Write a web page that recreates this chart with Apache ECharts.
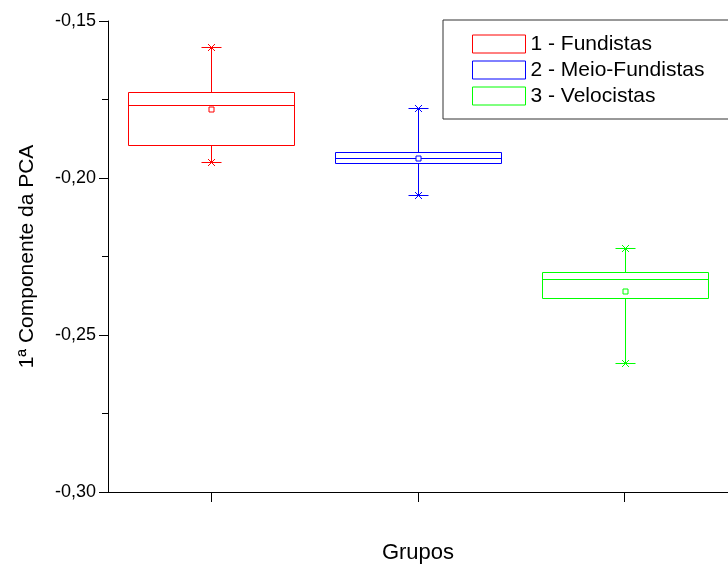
<!DOCTYPE html>
<html>
<head>
<meta charset="utf-8">
<script src="https://cdn.jsdelivr.net/npm/echarts@6/dist/echarts.min.js"></script>
<style>
html,body{margin:0;padding:0;background:#fff;}
#chart{width:728px;height:569px;}
</style>
</head>
<body>
<div id="chart"></div>
<script>
const categories = ['1', '2', '3'];
const seriesNames = ['1 - Fundistas', '2 - Meio-Fundistas', '3 - Velocistas'];
const seriesColors = ['#ff0000', '#0000ff', '#00ff00'];
const whiskerLow = [-0.1949, -0.2055, -0.2590];
const q1 = [-0.1894, -0.1952, -0.2381];
const median = [-0.1769, -0.1936, -0.2321];
const q3 = [-0.1727, -0.1916, -0.2300];
const whiskerHigh = [-0.1583, -0.1778, -0.2223];
const means = [-0.1781, -0.1936, -0.2361];
const yMin = -0.30, yMax = -0.15, yStep = 0.05;

const FONT = "'Liberation Sans', Arial, sans-serif";

function makeRender(color) {
  return function (params, api) {
    const idx = api.value(0);
    const cx = Math.round(api.coord([idx, api.value(3)])[0]) + 0.5;
    const Y = (k) => Math.round(api.coord([idx, api.value(k)])[1]) + 0.5;
    const yLow = Y(1), yQ1 = Y(2), yMed = Y(3), yQ3 = Y(4), yHigh = Y(5), yMean = Y(6);
    const catW = api.size([1, 0])[0];
    const half = Math.round(catW * 0.4);
    const capHalf = Math.round(catW * 0.05);
    const m = 3.5;
    const ms = 2.5;
    const ls = { stroke: color, lineWidth: 1, fill: null };
    const line = (x1, y1, x2, y2) => ({ type: 'line', shape: { x1, y1, x2, y2 }, style: ls });
    const children = [
      { type: 'rect', shape: { x: cx - half, y: yQ3, width: 2 * half, height: yQ1 - yQ3 }, style: { stroke: color, lineWidth: 1, fill: 'none' } },
      line(cx - half, yMed, cx + half, yMed),
      line(cx, yQ3, cx, yHigh),
      line(cx, yQ1, cx, yLow),
      line(cx - capHalf, yHigh, cx + capHalf, yHigh),
      line(cx - capHalf, yLow, cx + capHalf, yLow),
      line(cx - m, yHigh - m, cx + m, yHigh + m),
      line(cx - m, yHigh + m, cx + m, yHigh - m),
      line(cx - m, yLow - m, cx + m, yLow + m),
      line(cx - m, yLow + m, cx + m, yLow - m),
      { type: 'rect', shape: { x: cx - ms, y: yMean - ms, width: 2 * ms, height: 2 * ms }, style: { stroke: color, lineWidth: 1, fill: '#fff' } }
    ];
    return { type: 'group', children };
  };
}

const series = seriesNames.map((name, i) => ({
  name,
  type: 'custom',
  renderItem: makeRender(seriesColors[i]),
  itemStyle: { color: seriesColors[i] },
  encode: { x: 0, y: [1, 2, 3, 4, 5, 6] },
  data: [[i, whiskerLow[i], q1[i], median[i], q3[i], whiskerHigh[i], means[i]]],
  z: 3
}));

const chart = echarts.init(document.getElementById('chart'), null, { renderer: 'canvas' });
chart.setOption({
  animation: false,
  backgroundColor: '#fff',
  textStyle: { fontFamily: FONT },
  grid: { left: 108, top: 21, right: 0, bottom: 73, containLabel: false },
  legend: {
    left: 443,
    top: 20,
    orient: 'vertical',
    selectedMode: false,
    itemWidth: 53,
    itemHeight: 18,
    itemGap: 4,
    padding: [13, 50, 12, 29],
    borderColor: '#333',
    borderWidth: 1,
    backgroundColor: '#fff',
    textStyle: { fontFamily: FONT, fontSize: 21, color: '#000', lineHeight: 22 },
    data: seriesNames.map((n, i) => ({
      name: n,
      icon: 'rect',
      itemStyle: { color: '#fff', borderColor: seriesColors[i], borderWidth: 1 }
    }))
  },
  xAxis: {
    type: 'category',
    data: categories,
    name: 'Grupos',
    nameLocation: 'middle',
    nameGap: 50,
    nameTextStyle: { fontFamily: FONT, fontSize: 22, color: '#000' },
    axisLine: { lineStyle: { color: '#000', width: 1 } },
    axisTick: { show: true, alignWithLabel: true, length: 10, lineStyle: { color: '#000' } },
    axisLabel: { show: false },
    splitLine: { show: false }
  },
  yAxis: {
    type: 'value',
    min: yMin,
    max: yMax,
    interval: yStep,
    name: '1ª Componente da PCA',
    nameLocation: 'middle',
    nameRotate: 90,
    nameGap: 70,
    nameTextStyle: { fontFamily: FONT, fontSize: 21, color: '#000' },
    axisLine: { show: true, lineStyle: { color: '#000', width: 1 } },
    axisTick: { show: true, length: 9, lineStyle: { color: '#000' } },
    minorTick: { show: true, splitNumber: 2, length: 6, lineStyle: { color: '#000' } },
    axisLabel: {
      fontFamily: FONT, fontSize: 18, color: '#000', margin: 12,
      formatter: (v) => v.toFixed(2).replace('.', ',')
    },
    splitLine: { show: false }
  },
  series
});
</script>
</body>
</html>
